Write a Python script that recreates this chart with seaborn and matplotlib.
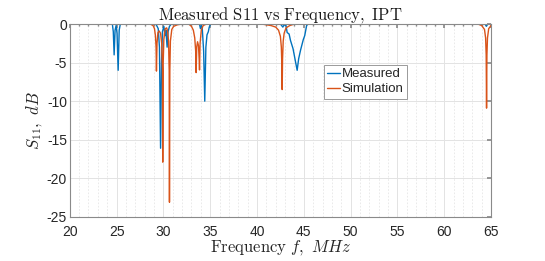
import matplotlib
matplotlib.use("Agg")
import matplotlib.pyplot as plt
import matplotlib.ticker as mticker
import pandas as pd
import seaborn as sns

# Measured S11
meas_f = [20, 24.55, 24.65, 24.74, 24.84, 24.95, 25.05, 25.17, 25.28, 25.4,
          29.2, 29.45, 29.58, 29.7, 29.8, 29.9, 30.05, 30.2, 30.27, 30.4, 30.5, 30.65, 30.85,
          33.85, 33.96, 34.05, 34.15, 34.3, 34.42, 34.54, 34.66, 34.8, 34.9, 35.05,
          42.5, 42.76, 42.9, 43.1, 43.22, 43.43, 43.57, 43.85, 44.1, 44.29, 44.45, 44.65,
          44.82, 44.95, 45.1, 45.3, 45.45,
          64.35, 64.5, 64.65, 65]
meas_db = [0, 0, -1.0, -4.0, -0.8, -0.2, -1.2, -6.0, -0.8, 0,
           0, -0.6, -3.0, -16.1, -5.0, -1.0, -0.3, -1.5, -0.8, -3.0, -1.0, -0.3, 0,
           0, -0.6, -0.2, -0.5, -3.5, -10.0, -3.0, -1.4, -1.0, -0.4, 0,
           0, -0.4, -0.1, -0.2, -1.1, -1.3, -2.1, -3.2, -4.8, -6.0, -4.5, -3.4,
           -2.6, -2.0, -1.5, -0.2, 0,
           0, -0.3, 0, 0]

# Simulated S11
sim_f = [20, 28.6, 28.9, 29.05, 29.15, 29.22, 29.26, 29.32, 29.42, 29.55, 29.7, 29.82, 29.9,
         29.93, 29.98, 30.05, 30.2, 30.35, 30.45, 30.55, 30.62, 30.65, 30.69, 30.75, 30.9,
         31.1, 31.5, 32.0,
         32.7, 33.0, 33.2, 33.35, 33.45, 33.5, 33.56, 33.65, 33.75, 33.82, 33.86, 33.92,
         34.05, 34.25, 34.6,
         40.5, 41.5, 42.0, 42.3, 42.5, 42.6, 42.66, 42.69, 42.73, 42.8, 42.9, 43.1, 43.5, 44.0,
         63.6, 64.0, 64.3, 64.42, 64.48, 64.52, 64.56, 64.62, 64.75, 65]
sim_db = [0, 0, -0.2, -0.6, -1.5, -3.0, -6.1, -2.5, -1.1, -0.9, -1.2, -2.5, -6.0,
          -17.9, -5.0, -2.0, -0.6, -0.5, -0.9, -2.2, -6.0, -23.1, -6.0, -2.2, -0.7,
          -0.3, -0.1, 0,
          0, -0.3, -0.8, -1.8, -3.5, -6.3, -3.0, -2.3, -2.8, -4.5, -5.95, -2.5,
          -0.8, -0.2, 0,
          0, -0.2, -0.4, -0.8, -1.6, -3.0, -5.5, -8.5, -4.5, -2.2, -1.2, -0.5, -0.2, 0,
          0, -0.2, -0.7, -1.8, -4.0, -10.9, -4.0, -1.8, -0.6, -0.2]

df = pd.concat([
    pd.DataFrame({"f": meas_f, "s11": meas_db, "series": "Measured"}),
    pd.DataFrame({"f": sim_f, "s11": sim_db, "series": "Simulation"}),
])

sns.set_theme(style="whitegrid")
plt.rcParams["font.family"] = ["Liberation Sans", "DejaVu Sans"]
plt.rcParams["mathtext.fontset"] = "cm"
plt.rcParams["axes.unicode_minus"] = False

fig, ax = plt.subplots(figsize=(5.45, 2.61), dpi=100)
fig.subplots_adjust(left=0.128, right=0.901, top=0.908, bottom=0.169)

sns.lineplot(data=df, x="f", y="s11", hue="series", sort=False, estimator=None,
             palette=["#0072BD", "#D95319"], linewidth=1.0, ax=ax)

ax.set_xlim(20, 65)
ax.set_ylim(-25, 0)
ax.xaxis.set_major_locator(mticker.MultipleLocator(5))
ax.xaxis.set_minor_locator(mticker.MultipleLocator(1))
ax.yaxis.set_major_locator(mticker.MultipleLocator(5))
ax.grid(which="major", color="#e3e3e3", linewidth=0.7, linestyle="-")
ax.grid(which="minor", axis="x", color="#e6e6e6", linewidth=0.6, linestyle=(0, (2, 2)))
ax.set_axisbelow(True)

for s in ax.spines.values():
    s.set_color("#8a8a8a")
    s.set_linewidth(0.8)
ax.tick_params(which="both", direction="in", top=True, right=True, colors="#8a8a8a",
               labelcolor="#262626", labelsize=10, pad=2)
ax.tick_params(axis="x", which="major", pad=6)
ax.tick_params(which="major", length=3)
ax.tick_params(which="minor", length=1.5)

ax.set_title(r"$\mathrm{Measured\ S11\ vs\ Frequency,\ IPT}$", fontsize=12, pad=3, color="#1a1a1a")
ax.set_xlabel(r"$\mathrm{Frequency}\ f,\ MHz$", fontsize=12, labelpad=-1, color="#262626")
ax.set_ylabel(r"$S_{11},\ dB$", fontsize=12, labelpad=2, color="#262626")

leg = ax.legend(loc="upper left", bbox_to_anchor=(0.603, 0.788), borderaxespad=0,
                fontsize=9.5, handlelength=1.0, handletextpad=0.1, borderpad=0.25,
                labelspacing=0.2, fancybox=False, framealpha=1, title=None)
leg.get_frame().set_edgecolor("#9a9a9a")
leg.get_frame().set_linewidth(0.7)

fig.savefig("out.png", dpi=100)
